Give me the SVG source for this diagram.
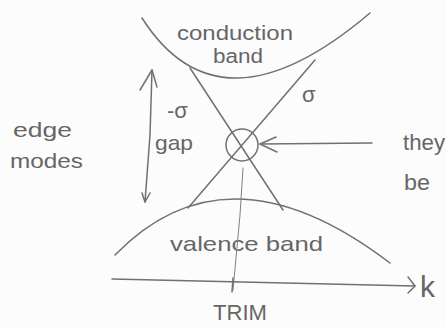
<svg xmlns="http://www.w3.org/2000/svg" width="446" height="327" viewBox="0 0 446 327">
<style>
.ln{fill:none;stroke:#707070;stroke-width:1.5;stroke-linecap:round;stroke-linejoin:round}
.thin{fill:none;stroke:#808080;stroke-width:1;stroke-linecap:round}
.t{font-family:"Liberation Sans","DejaVu Sans",sans-serif;fill:#666}
</style>
<rect x="0" y="0" width="446" height="327" fill="#fcfcfc"/>
<g id="conduction-band">
<path class="ln" d="M142,18 Q220,140.5 370,13"/>
<text class="t" x="177" y="40" font-size="21" textLength="116" lengthAdjust="spacingAndGlyphs">conduction</text>
<text class="t" x="213" y="63" font-size="20" textLength="50" lengthAdjust="spacingAndGlyphs">band</text>
</g>
<g id="valence-band">
<path class="ln" d="M115,255 Q227.5,139 390,263"/>
<text class="t" x="170" y="251" font-size="21" textLength="153" lengthAdjust="spacingAndGlyphs">valence band</text>
</g>
<g id="connectors">
<line class="ln" x1="190" y1="68" x2="283" y2="210"/>
<line class="ln" x1="315" y1="60" x2="188" y2="208"/>
<circle class="ln" cx="242" cy="145" r="16"/>
<path class="thin" d="M243,168 L240,215 L233,290"/>
<line class="ln" x1="372" y1="143" x2="260" y2="144"/>
<path class="ln" d="M276,137 L260,144 L277,152"/>
<path class="ln" d="M152,70 L150,135 L145,202"/>
<path class="ln" d="M140,90 L152,70 L157,87"/>
<path class="ln" d="M142,193 L145,202 L150,193"/>
<path class="ln" d="M112,279 Q260,283 415,286"/>
<path class="ln" d="M408,277 L415,286 L408,293"/>
<line class="ln" x1="233" y1="278" x2="232" y2="292"/>
</g>
<g id="labels">
<text class="t" x="167" y="118" font-size="22">-σ</text>
<text class="t" x="302" y="102" font-size="22">σ</text>
<text class="t" x="155" y="150" font-size="21" textLength="38" lengthAdjust="spacingAndGlyphs">gap</text>
<text class="t" x="13" y="137" font-size="21" textLength="59" lengthAdjust="spacingAndGlyphs">edge</text>
<text class="t" x="10" y="168" font-size="21" textLength="73" lengthAdjust="spacingAndGlyphs">modes</text>
<text class="t" x="403" y="150" font-size="22" textLength="42" lengthAdjust="spacingAndGlyphs">they</text>
<text class="t" x="404" y="190" font-size="22" textLength="26" lengthAdjust="spacingAndGlyphs">be</text>
<text class="t" x="420" y="297" font-size="30">k</text>
<text class="t" x="213" y="320" font-size="22" textLength="54" lengthAdjust="spacingAndGlyphs">TRIM</text>
</g>
</svg>
